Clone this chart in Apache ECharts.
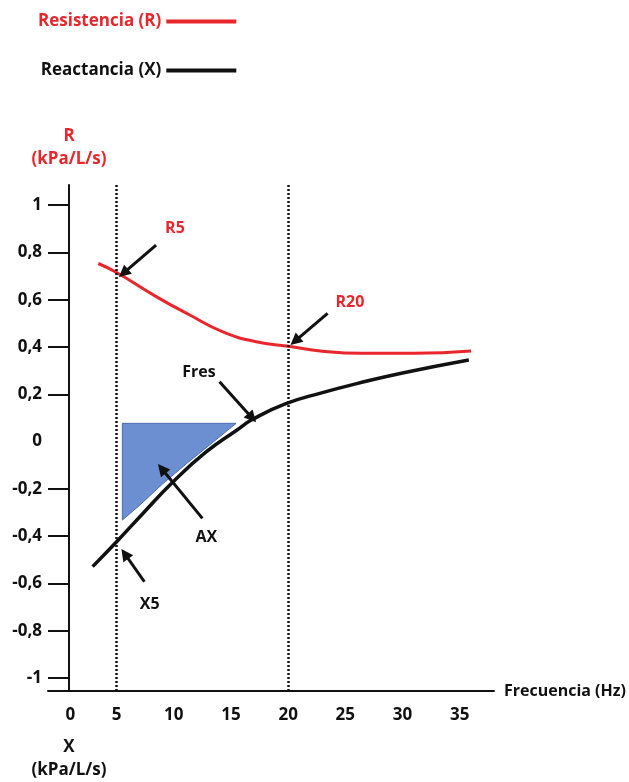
<!DOCTYPE html>
<html>
<head>
<meta charset="utf-8">
<script src="https://cdn.jsdelivr.net/npm/echarts@6/dist/echarts.min.js"></script>
<style>
  html, body { margin: 0; padding: 0; background: #fff; }
  #chart { width: 629px; height: 782px; }
</style>
</head>
<body>
<div id="chart"></div>
<script>
// Oscillometry curves: resistance (R) and reactance (X) against frequency
const freqR = [3.4, 5, 8.5, 11.4, 14.3, 17.2, 20, 23, 26.5, 31, 36];
const resistance = [0.753, 0.715, 0.612, 0.535, 0.464, 0.422, 0.403, 0.382, 0.373, 0.373, 0.383];

const freqX = [2.9, 5, 7.3, 9.9, 12.8, 15.5, 16.9, 19.8, 23, 26, 30, 35.8];
const reactance = [-0.529, -0.424, -0.304, -0.172, -0.045, 0.048, 0.094, 0.160, 0.207, 0.245, 0.29, 0.345];

// Reactance area (AX) between 5 Hz and the resonant frequency
const areaFreq = [5.5, 15.45, 13.5, 11.2, 9.0, 7.0, 5.5];
const areaX = [0.077, 0.077, 0.0, -0.09, -0.18, -0.27, -0.332];

// Reference lines
const markerFreqs = [5, 20];
const baselineValue = 0.095;

// Tick labels
const xTickValues = [0, 5, 10, 15, 20, 25, 30, 35];
const yTickValues = [-1, -0.8, -0.6, -0.4, -0.2, 0.2, 0.4, 0.6, 0.8, 1];
const yLabelValues = [-1, -0.8, -0.6, -0.4, -0.2, 0, 0.2, 0.4, 0.6, 0.8, 1];

// Annotations: [text, x, y, colour]
const notes = [
  ['R5', 10.1, 0.90, '#e8262b'],
  ['R20', 25.4, 0.59, '#e8262b'],
  ['Fres', 12.2, 0.294, '#111'],
  ['AX', 12.85, -0.404, '#111'],
  ['X5', 7.9, -0.687, '#111']
];
// Arrows: [fromX, fromY, toX, toY]
const arrows = [
  [8.45, 0.831, 5.6, 0.712],
  [23.45, 0.542, 20.6, 0.425],
  [14.0, 0.253, 16.85, 0.100],
  [12.5, -0.325, 8.95, -0.115],
  [7.43, -0.593, 5.72, -0.475]
];

const RED = '#e8262b';
const FONT = 'Open Sans';

const pairs = (xs, ys) => xs.map((x, i) => [x, ys[i]]);
const fmt = v => String(Math.round(v * 10) / 10).replace('.', ',');

const chart = echarts.init(document.getElementById('chart'));
chart.setOption({
  animation: false,
  backgroundColor: '#fff',
  textStyle: { fontFamily: FONT },
  legend: {
    orient: 'vertical',
    left: 33,
    top: 8,
    align: 'right',
    itemGap: 32,
    itemWidth: 70,
    itemHeight: 4,
    icon: 'rect',
    data: [
      { name: 'Resistencia (R)', textStyle: { color: RED } },
      { name: 'Reactancia (X)', textStyle: { color: '#111' } }
    ],
    textStyle: { fontFamily: FONT, fontWeight: 'bold', fontSize: 17, width: 128, align: 'left' }
  },
  grid: { left: 48, top: 185, width: 446, height: 506 },
  xAxis: {
    type: 'value',
    min: -1,
    max: 38,
    name: 'Frecuencia (Hz)',
    nameLocation: 'end',
    nameGap: 10,
    nameTextStyle: { color: '#111', fontWeight: 'bold', fontSize: 16, padding: [18, 0, 0, 0] },
    axisLine: { onZero: false, lineStyle: { color: '#111', width: 2 } },
    axisTick: { show: false },
    splitLine: { show: false },
    axisLabel: {
      customValues: xTickValues,
      margin: 16,
      color: '#111',
      fontWeight: 'bold',
      fontSize: 17,
      formatter: v => (v === 0 ? '{z|0}' : String(v)),
      rich: { z: { padding: [0, 0, 0, 22], fontWeight: 'bold', fontSize: 17, color: '#111' } }
    }
  },
  yAxis: [{
    type: 'value',
    position: 'left',
    offset: -21,
    min: -1.055,
    max: 1.085,
    name: 'R\n(kPa/L/s)',
    nameLocation: 'end',
    nameGap: 14,
    nameTextStyle: { color: RED, fontWeight: 'bold', fontSize: 17, align: 'center', lineHeight: 23 },
    axisLine: { onZero: false, lineStyle: { color: '#111', width: 2 } },
    axisTick: { customValues: yTickValues, length: 21, lineStyle: { color: '#111', width: 2 } },
    splitLine: { show: false },
    axisLabel: {
      customValues: yLabelValues,
      margin: 27,
      color: '#111',
      fontWeight: 'bold',
      fontSize: 17,
      formatter: fmt
    }
  }, {
    type: 'value',
    position: 'left',
    offset: -21,
    min: -1.055,
    max: 1.085,
    name: 'X\n(kPa/L/s)',
    nameLocation: 'start',
    nameGap: 45,
    nameTextStyle: { color: '#111', fontWeight: 'bold', fontSize: 17, align: 'center', verticalAlign: 'top', lineHeight: 23 },
    axisLine: { show: false },
    axisTick: { show: false },
    axisLabel: { show: false },
    splitLine: { show: false }
  }],
  series: [
    {
      type: 'custom',
      name: 'AX',
      silent: true,
      z: 1,
      data: [0],
      renderItem: (params, api) => ({
        type: 'polygon',
        shape: { points: pairs(areaFreq, areaX).map(p => api.coord(p)) },
        style: { fill: '#6b8fd0', stroke: '#4a6cb0', lineWidth: 1 }
      })
    },
    {
      type: 'line',
      name: 'Resistencia (R)',
      data: pairs(freqR, resistance),
      smooth: 0.5,
      symbol: 'none',
      clip: false,
      z: 3,
      color: RED,
      lineStyle: { color: RED, width: 3 },
      markLine: {
        silent: true,
        symbol: 'none',
        label: { show: false },
        data: [
          ...markerFreqs.map(f => ({ xAxis: f, lineStyle: { type: [2, 2], color: '#111', width: 2.5 } })),
          [{ coord: [-0.2, baselineValue] }, { coord: [38.7, baselineValue], lineStyle: { type: 'solid', color: '#222', width: 2 } }]
        ]
      }
    },
    {
      type: 'line',
      name: 'Reactancia (X)',
      data: pairs(freqX, reactance),
      smooth: 0.5,
      symbol: 'none',
      clip: false,
      z: 3,
      color: '#111',
      lineStyle: { color: '#111', width: 3.5 },
      markLine: {
        silent: true,
        symbol: ['none', 'triangle'],
        symbolSize: 12,
        label: { show: false },
        lineStyle: { type: 'solid', color: '#111', width: 3 },
        data: arrows.map(a => [{ coord: [a[0], a[1]] }, { coord: [a[2], a[3]] }])
      },
      markPoint: {
        silent: true,
        symbol: 'circle',
        symbolSize: 0,
        data: notes.map(n => ({
          coord: [n[1], n[2]],
          label: {
            show: true,
            position: 'inside',
            formatter: n[0],
            color: n[3],
            fontFamily: FONT,
            fontWeight: 'bold',
            fontSize: 16
          }
        }))
      }
    }
  ]
});
</script>
</body>
</html>
